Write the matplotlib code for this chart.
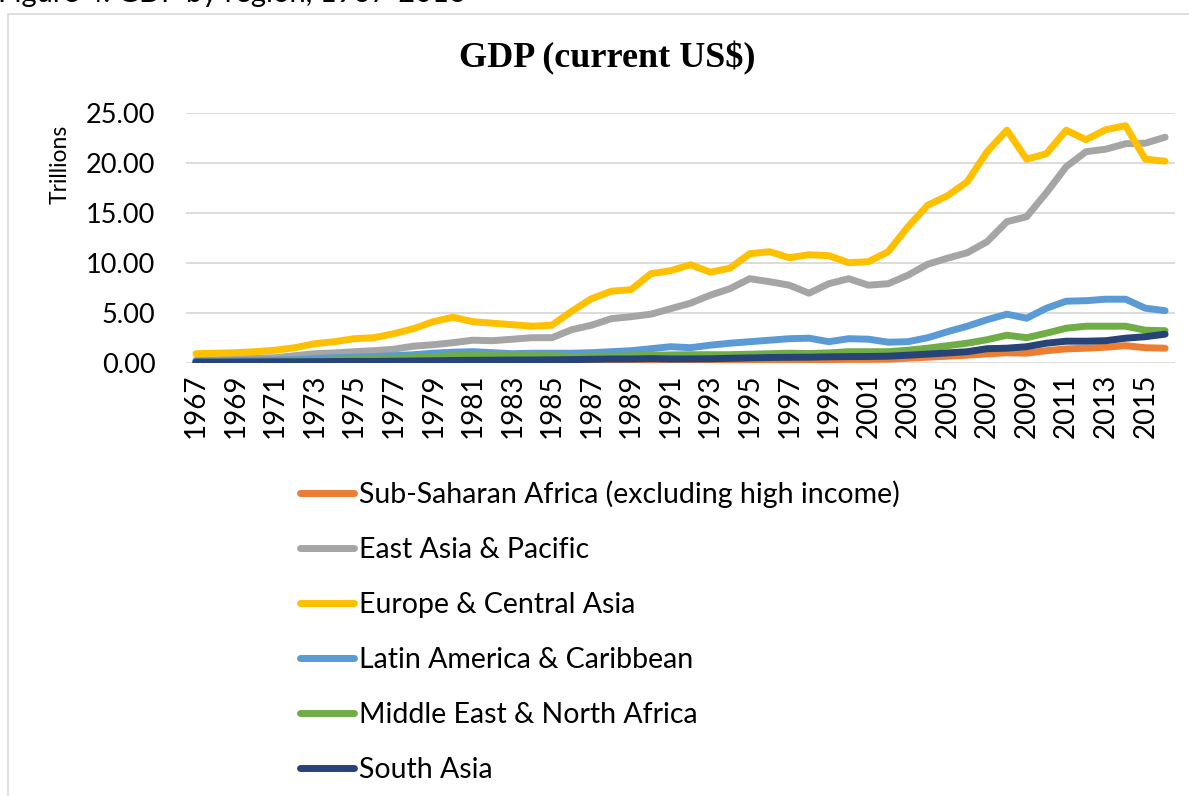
import matplotlib.pyplot as plt
from matplotlib.lines import Line2D
from matplotlib.patches import Rectangle

years = list(range(1967, 2017))

ssa = [0.03, 0.035, 0.04, 0.045, 0.05, 0.06, 0.075, 0.09, 0.10, 0.11,
       0.13, 0.15, 0.18, 0.25, 0.24, 0.22, 0.20, 0.18, 0.16, 0.17,
       0.20, 0.22, 0.23, 0.27, 0.27, 0.26, 0.25, 0.24, 0.28, 0.30,
       0.31, 0.30, 0.31, 0.34, 0.34, 0.36, 0.45, 0.55, 0.65, 0.75,
       0.88, 1.00, 0.95, 1.20, 1.38, 1.45, 1.55, 1.70, 1.50, 1.45]
east_asia = [0.25, 0.30, 0.35, 0.45, 0.50, 0.70, 0.90, 0.98, 1.10, 1.20,
             1.35, 1.65, 1.80, 2.00, 2.25, 2.20, 2.35, 2.50, 2.50, 3.30,
             3.75, 4.40, 4.60, 4.85, 5.40, 5.95, 6.75, 7.40, 8.40, 8.10,
             7.75, 6.95, 7.90, 8.40, 7.75, 7.90, 8.75, 9.85, 10.45, 11.00,
             12.10, 14.10, 14.60, 17.00, 19.60, 21.10, 21.35, 21.90, 21.95, 22.55]
europe = [0.90, 0.95, 1.00, 1.10, 1.25, 1.50, 1.90, 2.10, 2.40, 2.50,
          2.90, 3.40, 4.10, 4.55, 4.10, 3.95, 3.80, 3.65, 3.75, 5.15,
          6.40, 7.15, 7.30, 8.90, 9.20, 9.80, 9.05, 9.45, 10.90, 11.10,
          10.50, 10.80, 10.70, 10.00, 10.10, 11.10, 13.60, 15.75, 16.70, 18.10,
          21.10, 23.25, 20.35, 20.90, 23.25, 22.30, 23.30, 23.70, 20.35, 20.15]
latam = [0.15, 0.17, 0.20, 0.23, 0.26, 0.30, 0.40, 0.50, 0.55, 0.60,
         0.70, 0.80, 0.95, 1.05, 1.10, 1.00, 0.90, 0.95, 0.95, 0.95,
         1.00, 1.10, 1.20, 1.40, 1.60, 1.50, 1.75, 1.95, 2.10, 2.25,
         2.40, 2.45, 2.10, 2.40, 2.35, 2.05, 2.10, 2.50, 3.10, 3.65,
         4.30, 4.85, 4.45, 5.45, 6.15, 6.20, 6.35, 6.35, 5.45, 5.20]
mena = [0.03, 0.04, 0.05, 0.06, 0.08, 0.10, 0.15, 0.28, 0.33, 0.40,
        0.45, 0.50, 0.60, 0.70, 0.72, 0.70, 0.70, 0.70, 0.70, 0.62,
        0.65, 0.65, 0.68, 0.75, 0.78, 0.80, 0.80, 0.80, 0.85, 0.90,
        0.95, 0.92, 0.98, 1.10, 1.10, 1.10, 1.25, 1.45, 1.70, 1.95,
        2.30, 2.75, 2.50, 2.95, 3.45, 3.65, 3.65, 3.65, 3.25, 3.20]
south_asia = [0.06, 0.06, 0.07, 0.08, 0.09, 0.09, 0.10, 0.12, 0.13, 0.13,
              0.15, 0.17, 0.19, 0.22, 0.24, 0.25, 0.27, 0.27, 0.29, 0.31,
              0.34, 0.37, 0.37, 0.41, 0.37, 0.38, 0.39, 0.44, 0.48, 0.52,
              0.54, 0.55, 0.59, 0.61, 0.62, 0.65, 0.75, 0.86, 0.98, 1.10,
              1.40, 1.45, 1.60, 1.95, 2.15, 2.15, 2.20, 2.45, 2.60, 2.85]

series = [
    ("Sub-Saharan Africa (excluding high income)", ssa, "#ED7D31"),
    ("East Asia & Pacific", east_asia, "#A5A5A5"),
    ("Europe & Central Asia", europe, "#FFC000"),
    ("Latin America & Caribbean", latam, "#5B9BD5"),
    ("Middle East & North Africa", mena, "#70AD47"),
    ("South Asia", south_asia, "#264478"),
]
yticks = [0, 5, 10, 15, 20, 25]

W, H = 1189, 796
plt.rcParams["font.family"] = ["Lato", "DejaVu Sans"]
fig = plt.figure(figsize=(W / 100, H / 100), dpi=100)

# chart frame, running off the right and bottom edges
fig.patches.append(Rectangle((8 / W, -0.1), 1.2, 1 - 14 / H + 0.1,
                             transform=fig.transFigure, fill=False,
                             edgecolor="#D9D9D9", linewidth=1.2))
# caption sits mostly above the top edge, as in the source screenshot
fig.text(-2 / W, 1 - 2 / H, "Figure 4. GDP by region, 1967-2016",
         fontsize=21, va="baseline", ha="left")

ax = fig.add_axes([186 / W, 1 - 362.7 / H, (1175 - 186) / W, 250 / H])
xs = list(range(len(years)))
for name, vals, color in series:
    ax.plot(xs, vals, color=color, linewidth=5, solid_joinstyle="round",
            solid_capstyle="round", label=name)

ax.set_xlim(-0.5, len(years) - 0.5)
ax.set_ylim(0, 25)
ax.set_yticks(yticks)
ax.set_yticklabels([f"{v:.2f}" for v in yticks], fontsize=19.5)
ax.set_xticks(xs[::2])
ax.set_xticklabels([str(y) for y in years[::2]], rotation=90, fontsize=20)
ax.tick_params(length=0)
ax.tick_params(axis="y", pad=22)
ax.tick_params(axis="x", pad=8)
ax.grid(axis="y", color="#D9D9D9", linewidth=1.3)
ax.set_axisbelow(True)
for s in ax.spines.values():
    s.set_visible(False)

fig.text(60 / W, 1 - 164 / H, "Trillions", fontsize=16.5, rotation=90,
         ha="center", va="center")
fig.text(607 / W, 1 - 58 / H, "GDP (current US$)", fontsize=26,
         fontweight="bold", family="Liberation Serif", ha="center", va="center")

handles = [Line2D([], [], color=c, linewidth=5, solid_capstyle="round")
           for _, _, c in series]
fig.legend(handles, [n for n, _, _ in series], loc="upper left",
           bbox_to_anchor=(286 / W, 1 - 466 / H), frameon=False,
           fontsize=20.5, handlelength=1.9, handletextpad=0.15,
           labelspacing=1.02, borderpad=0)

fig.savefig("out.png", dpi=100)
